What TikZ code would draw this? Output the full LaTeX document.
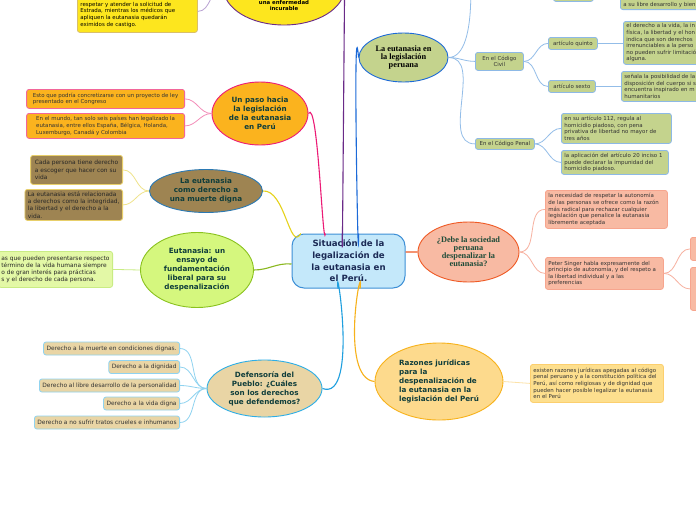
\documentclass[tikz,border=0pt]{standalone}
\usepackage{fontspec}
\setmainfont{DejaVu Sans}
\newfontfamily\serifb{Liberation Serif}
\usetikzlibrary{shapes.geometric}
\definecolor{cfill}{HTML}{C4E8FA}\definecolor{cblue}{HTML}{3D8FD6}\definecolor{ctext}{HTML}{1B2A55}
\definecolor{yel}{HTML}{FDE61E}\definecolor{purp}{HTML}{6A2A88}\definecolor{lpurp}{HTML}{B9A2D2}\definecolor{ybord}{HTML}{D9BF6A}
\definecolor{orng}{HTML}{FBB31E}\definecolor{mag}{HTML}{EC1B76}\definecolor{lpink}{HTML}{F38DB9}\definecolor{pbord}{HTML}{F2669A}
\definecolor{brn}{HTML}{9E8452}\definecolor{bblue}{HTML}{2B79B3}\definecolor{lyel}{HTML}{EFE38A}\definecolor{byel}{HTML}{E8CF6A}\definecolor{yline}{HTML}{E6D21C}
\definecolor{lgr}{HTML}{D5F77E}\definecolor{gbord}{HTML}{8AC21E}\definecolor{lgrb}{HTML}{E3F8A6}\definecolor{gbordb}{HTML}{C9EC84}\definecolor{gline}{HTML}{8AB81E}
\definecolor{tan}{HTML}{E9D5A5}\definecolor{skyb}{HTML}{2DAEE6}\definecolor{lsky}{HTML}{8FD3F0}\definecolor{dline}{HTML}{1E9FDF}
\definecolor{lor}{HTML}{FDDA8D}\definecolor{orb}{HTML}{F7B21B}\definecolor{lorb}{HTML}{FDDF8E}\definecolor{orbb}{HTML}{FCCF6E}\definecolor{lorl}{HTML}{FCE2A8}
\definecolor{sal}{HTML}{F8BAA3}\definecolor{redo}{HTML}{EF5A25}\definecolor{salb}{HTML}{F7A58E}\definecolor{lsal}{HTML}{F7B1A0}
\definecolor{oli}{HTML}{C4D38D}\definecolor{lblu}{HTML}{1C6AD8}\definecolor{olib}{HTML}{8DB9E6}\definecolor{oline}{HTML}{93BDE8}
\definecolor{tteal}{HTML}{0F3D3B}\definecolor{sgreen}{HTML}{1E4B38}\definecolor{boxtxt}{HTML}{333333}
\tikzset{
  ell/.style={ellipse, draw, line width=0.9pt, inner sep=0pt, align=center},
  tfont/.style={font=\bfseries\fontsize{7.2}{9}\selectfont, text=tteal},
  sfont/.style={font=\serifb\bfseries\fontsize{8.3}{8}\selectfont},
  box/.style={draw, rounded corners=2.5pt, line width=0.8pt, inner xsep=3pt, inner ysep=1pt,
    align=left, font=\fontsize{5.45}{6.6}\selectfont, text=boxtxt},
  bigbox/.style={box, font=\fontsize{5.9}{7.3}\selectfont},
  dbox/.style={box, font=\fontsize{5.9}{7}\selectfont, minimum height=13pt, anchor=east, fill=tan, draw=lsky},
  mainc/.style={line width=1.1pt},
  subc/.style={line width=0.8pt},
}
\begin{document}
\begin{tikzpicture}[x=1pt,y=-1pt]
\useasboundingbox (0,0) rectangle (696,520);
\clip (0,0) rectangle (696,520);
\fill[white] (0,0) rectangle (696,520);

% central
\node[draw=cblue, fill=cfill, rounded corners=12pt, line width=1pt, minimum width=113pt, minimum height=54pt,
  align=center, font=\bfseries\fontsize{8.6}{11.7}\selectfont, text=ctext, inner sep=0pt] (c) at (348.5,261)
  {Situación de la\\legalización de\\la eutanasia en\\el Perú.};

% top yellow ellipse (cut)
\node[ell, draw=purp, fill=yel, minimum width=121pt, minimum height=74pt] (ye) at (284,-12) {};
\node[font=\bfseries\fontsize{5.4}{6.4}\selectfont, align=center, text=black] (yet) at (284,5.5) {una enfermedad\\incurable};
\node[box, fill=yel, draw=ybord, anchor=north west, minimum height=42pt, text width=114pt, text=black] (yr) at (77,-10)
  {al Seguro Social de Salud (EsSalud)\\respetar y atender la solicitud de\\Estrada, mientras los médicos que\\apliquen la eutanasia quedarán\\eximidos de castigo.};

% Un paso
\node[ell, draw=mag, fill=orng, minimum width=96pt, minimum height=63pt, tfont] (paso) at (260,113.5)
  {Un paso hacia\\la legislación\\de la eutanasia\\en Perú};
\node[box, fill=orng, draw=pbord, anchor=north east, minimum height=19pt, minimum width=158pt] (pa1) at (185,89)
  {Esto que podría concretizarse con un proyecto de ley\\presentado en el Congreso};
\node[box, fill=orng, draw=pbord, anchor=north east, minimum height=25pt, minimum width=158pt] (pa2) at (185,113)
  {En el mundo, tan solo seis países han legalizado la\\eutanasia, entre ellos España, Bélgica, Holanda,\\Luxemburgo, Canadá y Colombia};

% brown
\node[ell, draw=bblue, fill=brn, minimum width=113pt, minimum height=43pt, tfont] (mu) at (206,191)
  {La eutanasia\\como derecho a\\una muerte digna};
\node[bigbox, fill=brn, draw=byel, anchor=north east, minimum height=29pt, minimum width=92pt, text=black!85] (mu1) at (123,155)
  {Cada persona tiene derecho\\a escoger que hacer con su\\vida};
\node[bigbox, fill=brn, draw=byel, anchor=north east, minimum height=31pt, minimum width=94pt, text=black!85] (mu2) at (123,189)
  {La eutanasia está relacionada\\a derechos como la integridad,\\la libertad y el derecho a la\\vida.};

% green
\node[ell, draw=gbord, fill=lgr, minimum width=113pt, minimum height=75pt, tfont] (en) at (197,270)
  {Eutanasia: un\\ensayo de\\fundamentación\\liberal para su\\despenalización};
\node[bigbox, fill=lgrb, draw=gbordb, anchor=north east, minimum height=36pt, text=black!85] (en1) at (113,251)
  {as que pueden presentarse respecto\\término de la vida humana siempre\\o de gran interés para prácticas\\s y el derecho de cada persona.};

% Defensoria
\node[ell, draw=skyb, fill=tan, minimum width=115pt, minimum height=57pt, tfont] (de) at (264.5,388.5)
  {Defensoría del\\Pueblo: ¿Cuáles\\son los derechos\\que defendemos?};
\node[dbox] (d1) at (180,348.5) {Derecho a la muerte en condiciones dignas.};
\node[dbox] (d2) at (180,367) {Derecho a la dignidad};
\node[dbox] (d3) at (180,385.5) {Derecho al libre desarrollo de la personalidad};
\node[dbox] (d4) at (180,403.5) {Derecho a la vida digna};
\node[dbox] (d5) at (180,422.5) {Derecho a no sufrir tratos crueles e inhumanos};

% Razones
\node[ell, draw=orb, fill=lor, minimum width=128pt, minimum height=77pt, font=\bfseries\fontsize{7.2}{9}\selectfont, text=tteal, align=left] (ra) at (439,381.5)
  {Razones jurídicas\\para la\\despenalización de\\la eutanasia en la\\legislación del Perú};
\node[box, fill=lorb, draw=orbb, anchor=north west, minimum height=38pt, text width=127pt] (ra1) at (530,364)
  {existen razones jurídicas apegadas al código\\penal peruano y a la constitución política del\\Perú, así como religiosas y de dignidad que\\pueden hacer posible legalizar la eutanasia\\en el Perú};

% Debe
\node[ell, draw=redo, fill=sal, minimum width=101pt, minimum height=60pt, sfont, text=sgreen] (db) at (468.5,252)
  {¿Debe la sociedad\\peruana\\despenalizar la\\eutanasia?};
\node[box, fill=sal, draw=salb, anchor=north west, minimum height=38pt, text width=116pt] (db1) at (545,190)
  {la necesidad de respetar la autonomía\\de las personas se ofrece como la razón\\más radical para rechazar cualquier\\legislación que penalice la eutanasia\\libremente aceptada};
\node[box, fill=sal, draw=salb, anchor=north west, minimum height=32pt, text width=112pt] (db2) at (545,257)
  {Peter Singer habla expresamente del\\principio de autonomía, y del respeto a\\la libertad individual y a las\\preferencias};
\node[box, fill=sal, draw=salb, anchor=north west, minimum height=23pt, minimum width=30pt] (db3) at (690,237) {};
\node[box, fill=sal, draw=salb, anchor=north west, minimum height=43pt, minimum width=30pt] (db4) at (690,267) {};

% Legislacion
\node[ell, draw=lblu, fill=oli, minimum width=89pt, minimum height=49pt, sfont, text=black] (le) at (403.5,57.5)
  {La eutanasia en\\la legislación\\peruana};
\coordinate (letop) at (470,-25);
\node[box, fill=oli, draw=olib, anchor=north west, minimum height=13pt, minimum width=40pt] (lt) at (553,-12) {};
\node[box, fill=oli, draw=olib, anchor=south west, text height=22pt, inner ysep=2pt] (ltr) at (620,10)
  {a su libre desarrollo y bien};
\node[box, fill=oli, draw=olib, anchor=north west, minimum height=18pt, minimum width=48pt, align=center] (civ) at (475,52)
  {En el Código\\Civil};
\node[box, fill=oli, draw=olib, anchor=north west, minimum height=11pt, minimum width=59pt] (pen) at (475,138)
  {En el Código Penal};
\node[box, fill=oli, draw=olib, anchor=north west, minimum height=12pt, minimum width=49pt] (q) at (548,37) {artículo quinto};
\node[box, fill=oli, draw=olib, anchor=north west, minimum height=12pt, minimum width=47pt] (s) at (548,80) {artículo sexto};
\node[box, fill=oli, draw=olib, anchor=north west, minimum height=43pt] (q1) at (623,21)
  {el derecho a la vida, la in\\física, la libertad y el hon\\indica que son derechos\\irrenunciables a la perso\\no pueden sufrir limitació\\alguna.};
\node[box, fill=oli, draw=olib, anchor=north west, minimum height=30pt] (s1) at (621,71)
  {señala la posibilidad de la\\disposición del cuerpo si s\\encuentra inspirado en m\\humanitarios};
\node[box, fill=oli, draw=olib, anchor=north west, minimum height=30pt, text width=104pt] (p1) at (561,113)
  {en su artículo 112, regula al\\homicidio piadoso, con pena\\privativa de libertad no mayor de\\tres años};
\node[box, fill=oli, draw=olib, anchor=north west, minimum height=24pt, text width=101pt] (p2) at (561,150)
  {la aplicación del artículo 20 inciso 1\\puede declarar la impunidad del\\homicidio piadoso.};

% main connectors (y axis points down: angles are mirrored)
\draw[mainc, purp] (c.103) to[out=-90,in=90] (ye.east);
\draw[subc, lpurp] (yr.east) to[out=0,in=180] (ye.west);
\draw[mainc, mag] (c.130) to[out=-98,in=60,looseness=0.4] (paso.east);
\draw[mainc, yline] (c.150) to[out=-120,in=5] (mu.east);
\draw[mainc, gline] (c.183) to[out=175,in=0] (en.east);
\draw[mainc, dline] (c.249) to[out=95,in=-20] (de.east);
\draw[mainc, orb] (c.293) to[out=85,in=175] (ra.west);
\draw[mainc, redo] (c.9) -- (db.west);
\draw[mainc, lblu] (c.70) to[out=-90,in=95] (le.west);

% sub connectors
\foreach \n in {pa1,pa2} \draw[subc, lpink] (paso.west) to[out=180,in=0] (\n.east);
\foreach \n in {mu1,mu2} \draw[subc, lyel] (mu.west) to[out=180,in=0] (\n.east);
\draw[subc, gbordb] (en.west) -- (en1.east);
\foreach \n in {d1,d2,d3,d4,d5} \draw[subc, lsky] (de.west) to[out=180,in=0] (\n.east);
\draw[subc, lorl] (ra.east) -- (ra1.west);
\foreach \n in {db1,db2} \draw[subc, lsal] (db.east) to[out=0,in=180] (\n.west);
\foreach \n in {db3,db4} \draw[subc, lsal] (db2.east) to[out=0,in=180] (\n.west);
\draw[subc, oline] (le.east) to[out=0,in=95] (letop);
\foreach \n in {civ,pen} \draw[subc, oline] (le.east) to[out=0,in=180] (\n.west);
\foreach \n in {q,s} \draw[subc, oline] (civ.east) to[out=0,in=180] (\n.west);
\foreach \n in {p1,p2} \draw[subc, oline] (pen.east) to[out=0,in=180] (\n.west);
\draw[subc, oline] (q.east) -- (q1.west |- q.east);
\draw[subc, oline] (s.east) -- (s1.west |- s.east);
\end{tikzpicture}
\end{document}
